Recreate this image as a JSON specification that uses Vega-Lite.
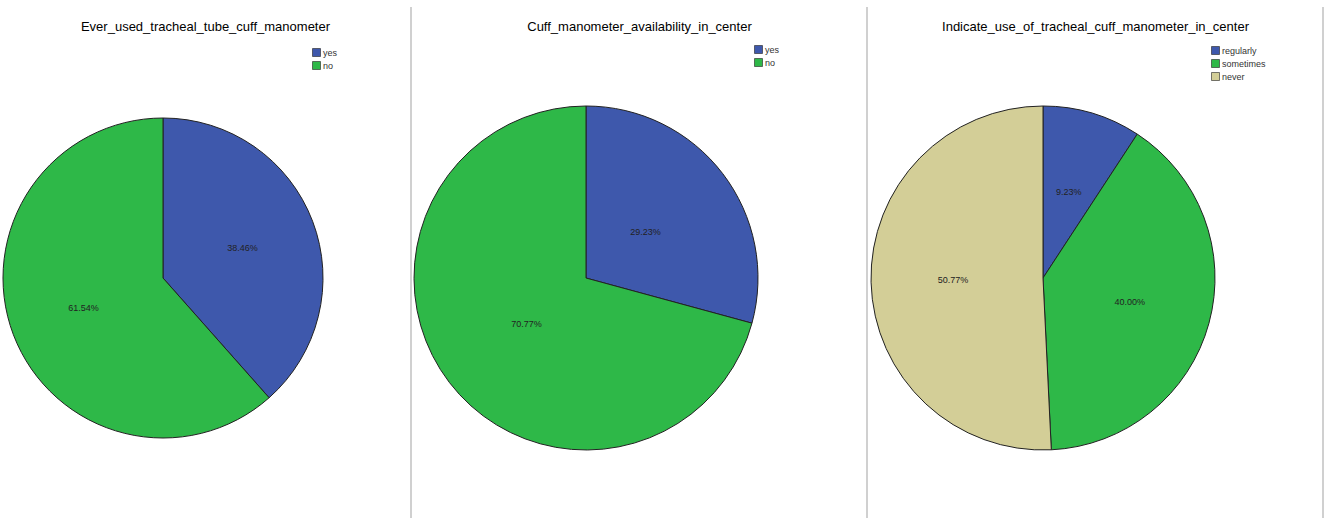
{
  "$schema": "https://vega.github.io/schema/vega-lite/v6.json",
  "background": "white",
  "padding": {"top": 6, "left": 0, "right": 0, "bottom": 0},
  "spacing": 0,
  "resolve": {"scale": {"color": "independent", "theta": "independent"}, "legend": {"color": "independent"}},
  "config": {
    "view": {"stroke": null},
    "title": {"font": "Liberation Sans", "fontSize": 13, "fontWeight": "normal", "color": "#000", "offset": -28, "anchor": "middle"},
    "legend": {"symbolType": "square", "symbolSize": 64, "labelFontSize": 9, "labelFont": "Liberation Sans", "labelColor": "#333", "symbolStrokeColor": "#222", "symbolStrokeWidth": 0.6, "rowPadding": 2, "padding": 0, "labelOffset": 2}
  },
  "hconcat": [
    {
      "width": 411, "height": 512,
      "title": "Ever_used_tracheal_tube_cuff_manometer",
      "layer": [
        {
          "data": {"values": [{"cat": "yes", "pct": 38.46, "ord": 1, "lab": "38.46%"}, {"cat": "no", "pct": 61.54, "ord": 2, "lab": "61.54%"}]},
          "layer": [
            {
              "mark": {"type": "arc", "outerRadius": 160, "stroke": "#222", "strokeWidth": 1},
              "encoding": {
                "theta": {"field": "pct", "type": "quantitative", "stack": true},
                "order": {"field": "ord"},
                "color": {"field": "cat", "type": "nominal", "scale": {"domain": ["yes", "no"], "range": ["#3E58AC", "#2EB848"]}, "legend": {"title": null, "orient": "none", "legendX": 312, "legendY": 41}},
                "x": {"value": 163},
                "y": {"value": 271}
              }
            },
            {
              "mark": {"type": "text", "radius": 85, "fontSize": 9, "font": "Liberation Sans", "color": "#222"},
              "encoding": {
                "theta": {"field": "pct", "type": "quantitative", "stack": true},
                "order": {"field": "ord"},
                "text": {"field": "lab"},
                "x": {"value": 163},
                "y": {"value": 271}
              }
            }
          ]
        },
        {
          "data": {"values": [{}]},
          "mark": {"type": "rule", "color": "#d0d0d0", "strokeWidth": 2},
          "encoding": {"x": {"value": 411}, "y": {"value": 0}, "y2": {"value": 512}}
        }
      ]
    },
    {
      "width": 455, "height": 512,
      "title": "Cuff_manometer_availability_in_center",
      "layer": [
        {
          "data": {"values": [{"cat": "yes", "pct": 29.23, "ord": 1, "lab": "29.23%"}, {"cat": "no", "pct": 70.77, "ord": 2, "lab": "70.77%"}]},
          "layer": [
            {
              "mark": {"type": "arc", "outerRadius": 172, "stroke": "#222", "strokeWidth": 1},
              "encoding": {
                "theta": {"field": "pct", "type": "quantitative", "stack": true},
                "order": {"field": "ord"},
                "color": {"field": "cat", "type": "nominal", "scale": {"domain": ["yes", "no"], "range": ["#3E58AC", "#2EB848"]}, "legend": {"title": null, "orient": "none", "legendX": 342, "legendY": 38}},
                "x": {"value": 174},
                "y": {"value": 271}
              }
            },
            {
              "mark": {"type": "text", "radius": 75, "fontSize": 9, "font": "Liberation Sans", "color": "#222"},
              "encoding": {
                "theta": {"field": "pct", "type": "quantitative", "stack": true},
                "order": {"field": "ord"},
                "text": {"field": "lab"},
                "x": {"value": 174},
                "y": {"value": 271}
              }
            }
          ]
        },
        {
          "data": {"values": [{}]},
          "mark": {"type": "rule", "color": "#d0d0d0", "strokeWidth": 2},
          "encoding": {"x": {"value": 455}, "y": {"value": 0}, "y2": {"value": 512}}
        }
      ]
    },
    {
      "width": 455, "height": 512,
      "title": "Indicate_use_of_tracheal_cuff_manometer_in_center",
      "layer": [
        {
          "data": {"values": [{"cat": "regularly", "pct": 9.23, "ord": 1, "lab": "9.23%"}, {"cat": "sometimes", "pct": 40.0, "ord": 2, "lab": "40.00%"}, {"cat": "never", "pct": 50.77, "ord": 3, "lab": "50.77%"}]},
          "layer": [
            {
              "mark": {"type": "arc", "outerRadius": 172, "stroke": "#222", "strokeWidth": 1},
              "encoding": {
                "theta": {"field": "pct", "type": "quantitative", "stack": true},
                "order": {"field": "ord"},
                "color": {"field": "cat", "type": "nominal", "scale": {"domain": ["regularly", "sometimes", "never"], "range": ["#3E58AC", "#2EB848", "#D3CE97"]}, "legend": {"title": null, "orient": "none", "legendX": 343, "legendY": 39}},
                "x": {"value": 175},
                "y": {"value": 271}
              }
            },
            {
              "mark": {"type": "text", "radius": 90, "fontSize": 9, "font": "Liberation Sans", "color": "#222"},
              "encoding": {
                "theta": {"field": "pct", "type": "quantitative", "stack": true},
                "order": {"field": "ord"},
                "text": {"field": "lab"},
                "x": {"value": 175},
                "y": {"value": 271}
              }
            }
          ]
        },
        {
          "data": {"values": [{}]},
          "mark": {"type": "rule", "color": "#d0d0d0", "strokeWidth": 2},
          "encoding": {"x": {"value": 455}, "y": {"value": 0}, "y2": {"value": 512}}
        }
      ]
    }
  ]
}
